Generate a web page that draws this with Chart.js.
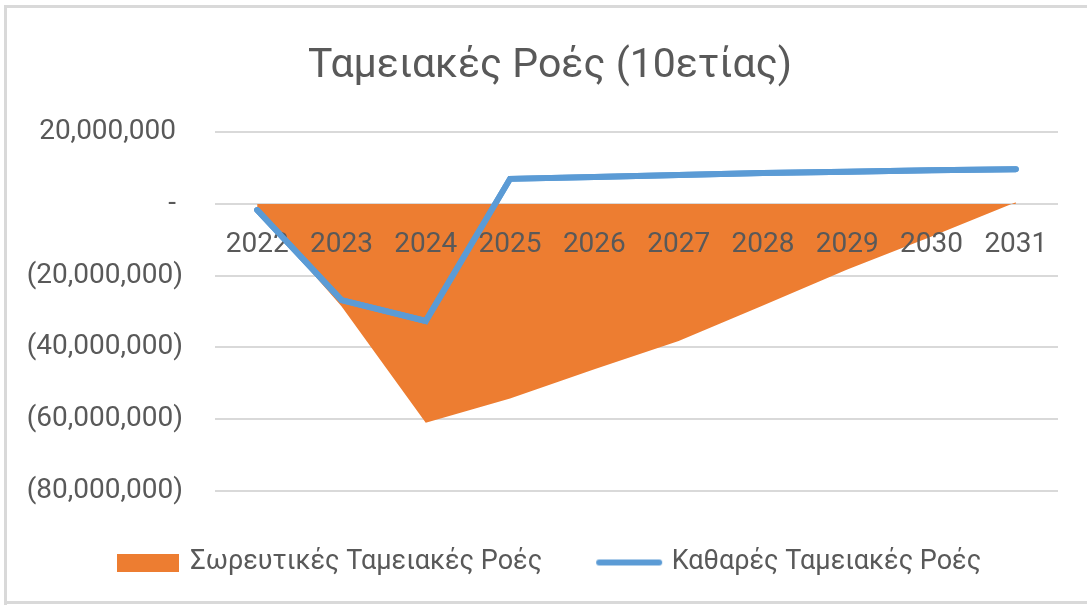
<!DOCTYPE html>
<html>
<head>
<meta charset="utf-8">
<script src="https://cdn.jsdelivr.net/npm/chart.js@4.4.1/dist/chart.umd.min.js"></script>
<style>
  html, body { margin: 0; padding: 0; background: #fff; }
  #wrap { width: 1087px; height: 605px; }
</style>
</head>
<body>
<div id="wrap"><canvas id="chart" width="1087" height="605"></canvas></div>
<script>
const years = ['2022', '2023', '2024', '2025', '2026', '2027', '2028', '2029', '2030', '2031'];
const cumulative = [-1700000, -28500000, -61000000, -54200000, -46100000, -38200000, -28300000, -18300000, -9100000, 500000];
const net = [-1700000, -26800000, -32600000, 7000000, 7500000, 8100000, 8600000, 9000000, 9400000, 9700000];
const yTicks = [20000000, 0, -20000000, -40000000, -60000000, -80000000];

const titleText = 'Ταμειακές Ροές (10ετίας)';
const cumLabel = 'Σωρευτικές Ταμειακές Ροές';
const netLabel = 'Καθαρές Ταμειακές Ροές';

const ORANGE = '#ED7D31';
const BLUE = '#5B9BD5';
const TEXT = '#595959';
const GRID = '#D9D9D9';
const FONT = 'Roboto';

const fmtNum = new Intl.NumberFormat('en-US', { maximumFractionDigits: 0 });
function accounting(v) {
  if (v === 0) return '- ';
  if (v < 0) return '(' + fmtNum.format(-v) + ')';
  return fmtNum.format(v) + ' ';
}

// legend swatches drawn as small canvases
function swatch(w, h, draw) {
  const c = document.createElement('canvas');
  c.width = w; c.height = h;
  draw(c.getContext('2d'));
  return c;
}
const cumSwatch = swatch(62, 18, ctx => { ctx.fillStyle = ORANGE; ctx.fillRect(0, 0, 62, 18); });
const netSwatch = swatch(68, 8, ctx => {
  ctx.strokeStyle = BLUE; ctx.lineWidth = 6; ctx.lineCap = 'round';
  ctx.beginPath(); ctx.moveTo(4, 4); ctx.lineTo(64, 4); ctx.stroke();
});

const frame = {
  id: 'frame',
  beforeDraw(chart) {
    const ctx = chart.ctx;
    ctx.save();
    ctx.fillStyle = '#fff';
    ctx.fillRect(0, 0, chart.width, chart.height);
    ctx.strokeStyle = GRID;
    ctx.lineWidth = 3;
    ctx.beginPath();
    ctx.moveTo(5.5, chart.height);
    ctx.lineTo(5.5, 6.5);
    ctx.lineTo(chart.width, 6.5);
    ctx.moveTo(5, 602.5);
    ctx.lineTo(chart.width, 602.5);
    ctx.stroke();
    ctx.restore();
  },
  // year labels sit over the area, the net line goes back on top of them
  afterDraw(chart) {
    const ctx = chart.ctx;
    const area = chart.chartArea;
    ctx.save();
    ctx.beginPath();
    ctx.rect(area.left, area.top - 10, area.right - area.left, area.bottom - area.top + 20);
    ctx.clip();
    chart.getDatasetMeta(1).controller.draw();
    ctx.restore();
  }
};

const chart = new Chart(document.getElementById('chart'), {
  type: 'line',
  data: {
    labels: years,
    datasets: [
      {
        label: cumLabel,
        data: cumulative,
        fill: 'origin',
        backgroundColor: ORANGE,
        borderColor: ORANGE,
        borderWidth: 0,
        pointRadius: 0,
        tension: 0,
        order: 2
      },
      {
        label: netLabel,
        data: net,
        fill: false,
        borderColor: BLUE,
        backgroundColor: BLUE,
        borderWidth: 6,
        borderCapStyle: 'round',
        borderJoinStyle: 'miter',
        pointRadius: 0,
        tension: 0,
        order: 1
      }
    ]
  },
  options: {
    responsive: false,
    animation: false,
    layout: { padding: { left: 20, right: 7, top: 20, bottom: 19 } },
    scales: {
      x: {
        position: { y: 0 },
        offset: true,
        grid: { display: false, drawTicks: false },
        border: { display: false },
        ticks: { z: 1, color: TEXT, font: { family: FONT, size: 28 }, padding: 24, maxRotation: 0, autoSkip: false },
        afterFit(scale) { scale.height = 37; }
      },
      y: {
        min: -80000000,
        max: 20000000,
        grid: { color: GRID, lineWidth: 2, drawTicks: false },
        border: { display: false },
        afterBuildTicks(scale) { scale.ticks = yTicks.map(v => ({ value: v })); },
        ticks: {
          color: TEXT,
          font: { family: FONT, size: 28 },
          padding: 32,
          callback: v => accounting(v)
        },
        afterFit(scale) { scale.width = 195; }
      },
      yR: {
        position: 'right',
        grid: { display: false, drawTicks: false },
        border: { display: false },
        ticks: { display: false },
        afterFit(scale) { scale.width = 22; }
      }
    },
    plugins: {
      title: {
        display: true,
        text: titleText,
        color: TEXT,
        font: { family: FONT, size: 41, weight: 'normal' },
        padding: { top: 22, bottom: 41 }
      },
      legend: {
        position: 'bottom',
        labels: {
          color: TEXT,
          font: { family: FONT, size: 27 },
          usePointStyle: true,
          pointStyleWidth: 58,
          boxHeight: 18,
          padding: 58,
          sort: (a, b) => a.datasetIndex - b.datasetIndex,
          generateLabels(chart) {
            const items = Chart.defaults.plugins.legend.labels.generateLabels(chart);
            items.forEach(it => {
              it.pointStyle = it.datasetIndex === 0 ? cumSwatch : netSwatch;
            });
            return items;
          }
        }
      },
      tooltip: { enabled: false }
    }
  },
  plugins: [frame]
});
</script>
</body>
</html>
